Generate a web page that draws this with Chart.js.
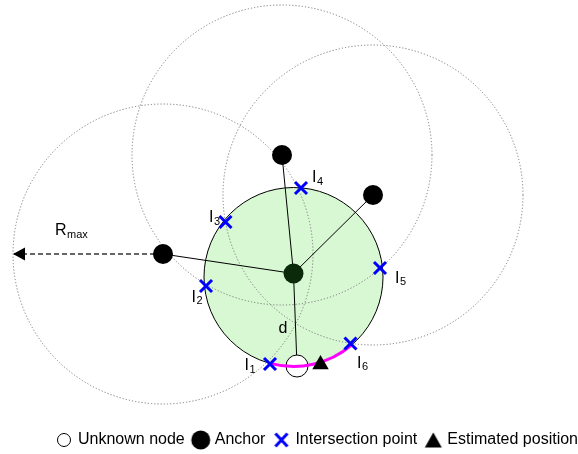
<!DOCTYPE html>
<html>
<head>
<meta charset="utf-8">
<script src="https://cdn.jsdelivr.net/npm/chart.js@4.4.0/dist/chart.umd.min.js"></script>
<style>
  html, body { margin: 0; padding: 0; background: #fff; overflow: hidden; }
  #frame { width: 578px; height: 454px; overflow: hidden; position: relative; }
  /* the canvas runs a little past the frame so the legend sits low and right */
  #wrap { width: 588px; height: 458px; }
</style>
</head>
<body>
<div id="frame"><div id="wrap"><canvas id="chart"></canvas></div></div>
<script>
// diagram coordinates: x to the right, y downwards
const anchors = [
  { x: 293.5, y: 273.5 },   // anchor that hears the unknown node
  { x: 282, y: 155 },
  { x: 373, y: 195 },
  { x: 163, y: 254 }
];
const unknownNode = [{ x: 297, y: 366 }];
const estimated = [{ x: 320.5, y: 364.5 }];
const intersections = [
  { x: 270, y: 364 },
  { x: 206, y: 286 },
  { x: 225.5, y: 222 },
  { x: 301, y: 188 },
  { x: 380, y: 268 },
  { x: 350.5, y: 343.5 }
];
const intersectionNames = ["1", "2", "3", "4", "5", "6"];
const rangeCircle = { x: 293.5, y: 277, r: 89.5 };
const rMax = 150;
const legendNames = ["Unknown node", "Anchor", "Intersection point", "Estimated position"];

// label placement (offsets from the marked point)
const labelOffsets = [[-25.5, 6], [-14.5, 15.5], [-16.5, 0], [11, -6], [15, 14.5], [6.5, 24]];
const dLabel = { x: 278.5, y: 333 };
const rLabel = { x: 55, y: 235 };

const FONT = "'Liberation Sans', Arial, sans-serif";

const spokes = anchors.slice(1).map(a => ({
  data: [anchors[0], a], showLine: true, pointRadius: 0,
  borderColor: "#000", borderWidth: 1, order: 10, clip: false
}));
const arrowEnd = { x: anchors[3].x - rMax, y: anchors[3].y };

const diagram = {
  id: "diagram",
  beforeDatasetsDraw(chart) {
    const { ctx, scales: { x, y } } = chart;
    const unit = x.getPixelForValue(1) - x.getPixelForValue(0);
    ctx.save();
    // transmission range of the anchor
    ctx.beginPath();
    ctx.arc(x.getPixelForValue(rangeCircle.x), y.getPixelForValue(rangeCircle.y), rangeCircle.r * unit, 0, Math.PI * 2);
    ctx.fillStyle = "#d8f7d3";
    ctx.fill();
    ctx.lineWidth = 1;
    ctx.strokeStyle = "#000";
    ctx.stroke();
    // Rmax circles round the other anchors
    ctx.setLineDash([1.2, 2]);
    ctx.strokeStyle = "#7a7a7a";
    anchors.slice(1).forEach(a => {
      ctx.beginPath();
      ctx.arc(x.getPixelForValue(a.x), y.getPixelForValue(a.y), rMax * unit, 0, Math.PI * 2);
      ctx.stroke();
    });
    ctx.restore();
  },
  afterDatasetDraw(chart, args) {
    if (chart.data.datasets[args.index].label !== "Unknown node") return;
    const { ctx, scales: { x, y } } = chart;
    const unit = x.getPixelForValue(1) - x.getPixelForValue(0);
    const cx = x.getPixelForValue(rangeCircle.x), cy = y.getPixelForValue(rangeCircle.y);
    const ang = p => Math.atan2(y.getPixelForValue(p.y) - cy, x.getPixelForValue(p.x) - cx);
    ctx.save();
    ctx.beginPath();
    ctx.arc(cx, cy, rangeCircle.r * unit, ang(intersections[5]), ang(intersections[0]), false);
    ctx.strokeStyle = "#ff00ff";
    ctx.lineWidth = 3;
    ctx.stroke();
    ctx.restore();
  },
  afterDatasetsDraw(chart) {
    const { ctx, scales: { x, y } } = chart;
    ctx.save();
    // arrow head of Rmax
    const tx = x.getPixelForValue(arrowEnd.x), ty = y.getPixelForValue(arrowEnd.y);
    ctx.beginPath();
    ctx.moveTo(tx, ty);
    ctx.lineTo(tx + 12, ty - 6.5);
    ctx.lineTo(tx + 12, ty + 6.5);
    ctx.closePath();
    ctx.fillStyle = "#000";
    ctx.fill();

    const sub = (main, s, px, py) => {
      ctx.font = "16px " + FONT;
      ctx.fillText(main, px, py);
      const w = ctx.measureText(main).width;
      ctx.font = "11px " + FONT;
      ctx.fillText(s, px + w + 0.5, py + 2.5);
    };
    ctx.textBaseline = "alphabetic";
    intersections.forEach((p, i) => {
      const [dx, dy] = labelOffsets[i];
      sub("I", intersectionNames[i], x.getPixelForValue(p.x) + dx, y.getPixelForValue(p.y) + dy);
    });
    sub("R", "max", x.getPixelForValue(rLabel.x), y.getPixelForValue(rLabel.y));
    ctx.font = "16px " + FONT;
    ctx.fillText("d", x.getPixelForValue(dLabel.x), y.getPixelForValue(dLabel.y));
    ctx.restore();
  }
};

function symbol(w, h, draw) {
  const c = document.createElement("canvas");
  c.width = w;
  c.height = h;
  draw(c.getContext("2d"));
  return c;
}
const legendSymbols = [
  symbol(16, 16, g => {
    g.beginPath(); g.arc(8, 8, 6.5, 0, Math.PI * 2);
    g.fillStyle = "#fff"; g.fill(); g.lineWidth = 1; g.strokeStyle = "#000"; g.stroke();
  }),
  symbol(22, 22, g => {
    g.beginPath(); g.arc(11, 11, 9.5, 0, Math.PI * 2); g.fillStyle = "#000"; g.fill();
  }),
  symbol(18, 18, g => {
    g.strokeStyle = "#0000ff"; g.lineWidth = 3;
    g.beginPath(); g.moveTo(3, 2.5); g.lineTo(15, 15.5); g.moveTo(15, 2.5); g.lineTo(3, 15.5); g.stroke();
  }),
  symbol(20, 18, g => {
    g.beginPath(); g.moveTo(10, 1.5); g.lineTo(18.5, 16.5); g.lineTo(1.5, 16.5); g.closePath();
    g.fillStyle = "#000"; g.fill();
  })
];

new Chart(document.getElementById("chart"), {
  type: "scatter",
  data: {
    datasets: [
      ...spokes,
      {
        data: [anchors[0], unknownNode[0]], showLine: true, pointRadius: 0,
        borderColor: "#000", borderWidth: 1, order: 10, clip: false
      },
      {
        data: [anchors[3], arrowEnd], showLine: true, pointRadius: 0,
        borderColor: "#333", borderWidth: 1.5, borderDash: [5, 3], order: 9, clip: false
      },
      {
        label: "Unknown node", data: unknownNode, pointStyle: "circle", pointRadius: 11,
        pointBackgroundColor: "#fff", pointBorderColor: "#000", pointBorderWidth: 1, order: 8, clip: false
      },
      {
        label: "Anchor", data: anchors, pointStyle: "circle", pointRadius: 10,
        pointBackgroundColor: ["#0a2a0a", "#000", "#000", "#000"], pointBorderWidth: 0, order: 5, clip: false
      },
      {
        label: "Intersection point", data: intersections, pointStyle: "crossRot", pointRadius: 8.5,
        pointBorderColor: "#0000ff", pointBorderWidth: 3, order: 2, clip: false
      },
      {
        label: "Estimated position", data: estimated, pointStyle: "triangle", pointRadius: 9.5,
        pointBackgroundColor: "#000", pointBorderWidth: 0, order: 1, clip: false
      }
    ]
  },
  options: {
    responsive: true,
    maintainAspectRatio: false,
    animation: false,
    events: [],
    layout: { autoPadding: false, padding: 0 },
    scales: {
      x: { type: "linear", min: 0, max: 588, display: false },
      y: { type: "linear", min: 0, max: 422, reverse: true, display: false }
    },
    plugins: {
      tooltip: { enabled: false },
      legend: {
        position: "bottom",
        align: "end",
        labels: {
          usePointStyle: true,
          boxWidth: 12,
          padding: 10,
          color: "#000",
          font: { family: FONT, size: 16 },
          generateLabels: () => legendNames.map((name, i) => ({
            text: name, pointStyle: legendSymbols[i], fillStyle: "#000",
            strokeStyle: "#000", lineWidth: 0, hidden: false, datasetIndex: i
          }))
        }
      }
    }
  },
  plugins: [diagram]
});
</script>
</body>
</html>
